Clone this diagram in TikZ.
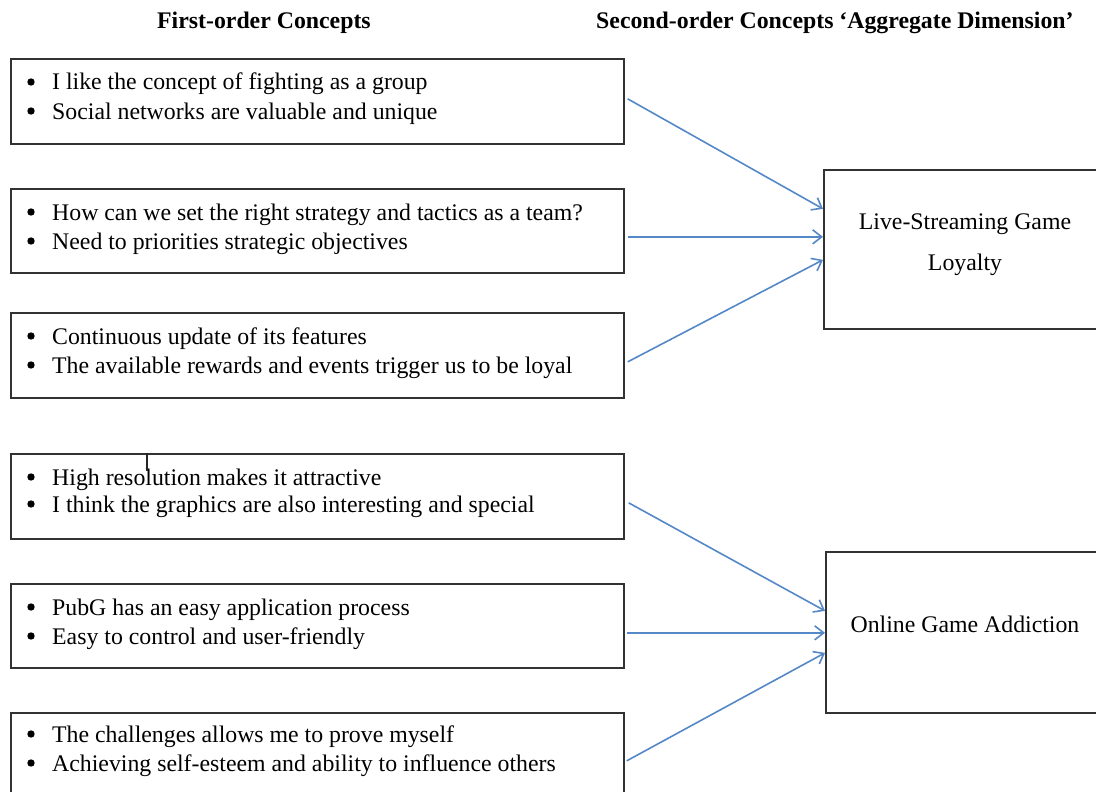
\documentclass[tikz,border=0pt]{standalone}
\usepackage{fontspec}
\setmainfont{Liberation Serif}
\usetikzlibrary{arrows.meta,calc}
\definecolor{arrowblue}{RGB}{84,136,198}
\definecolor{boxline}{RGB}{50,50,50}
\begin{document}
\begin{tikzpicture}[x=1pt,y=-1pt,
  lbox/.style={draw=boxline, line width=1.7pt, rectangle, anchor=north west, inner sep=0pt, minimum width=613pt},
  rbox/.style={draw=boxline, line width=1.7pt, rectangle, anchor=north west, inner sep=0pt, minimum width=284pt},
  itemline/.style={anchor=base west, inner sep=0pt, font=\fontsize{23.8}{29}\selectfont},
  rtext/.style={anchor=base, inner sep=0pt, font=\fontsize{23.8}{29}\selectfont},
  head/.style={anchor=base west, inner sep=0pt, font=\fontsize{23.8}{29}\selectfont\bfseries},
  conn/.style={draw=arrowblue, line width=1.6pt, -{Straight Barb[length=9pt,width=14pt,line width=1.6pt]}},
  bulletdot/.style={fill=black},
  cursorline/.style={draw=black!85, line width=1.5pt}
]
\clip (0,0) rectangle (1096,792);
\fill[white] (0,0) rectangle (1096,792);

% headings
\node[head] (h1) at (157,29) {First-order Concepts};
\node[head] (h2) at (596,29) {Second-order Concepts ‘Aggregate Dimension’};

% left boxes
\node[lbox, minimum height=85pt] (b1) at (10,58) {};
\node[lbox, minimum height=84pt] (b2) at (10,188) {};
\node[lbox, minimum height=85pt] (b3) at (10,312) {};
\node[lbox, minimum height=85pt] (b4) at (10,453) {};
\node[lbox, minimum height=84pt] (b5) at (10,583) {};
\node[lbox, minimum height=100pt] (b6) at (10,712) {};

\node[itemline] (t11) at (52,90) {I like the concept of fighting as a group};
\node[itemline] (t12) at (52,119) {Social networks are valuable and unique};
\node[itemline] (t21) at (52,220) {How can we set the right strategy and tactics as a team?};
\node[itemline] (t22) at (52,249) {Need to priorities strategic objectives};
\node[itemline] (t31) at (52,344) {Continuous update of its features};
\node[itemline] (t32) at (52,373) {The available rewards and events trigger us to be loyal};
\node[itemline] (t41) at (52,485) {High resolution makes it attractive};
\node[itemline] (t42) at (52,512) {I think the graphics are also interesting and special};
\node[itemline] (t51) at (52,615) {PubG has an easy application process};
\node[itemline] (t52) at (52,644) {Easy to control and user-friendly};
\node[itemline] (t61) at (52,742) {The challenges allows me to prove myself};
\node[itemline] (t62) at (52,771) {Achieving self-esteem and ability to influence others};

% bullets
\foreach \t in {t11,t12,t21,t22,t31,t32,t41,t42,t51,t52,t61,t62}
  \fill[bulletdot] ([xshift=-21pt,yshift=8pt]\t.base west) circle (3.7pt);

% stray cursor mark
\draw[cursorline] ([xshift=137pt]b4.north west) -- ++(0,18);

% right boxes
\node[rbox, minimum height=159pt] (r1) at (823,169) {};
\node[rbox, minimum height=161pt] (r2) at (825,551) {};
\node[rtext] (r1a) at (965,229) {Live-Streaming Game};
\node[rtext] (r1b) at (965,270) {Loyalty};
\node[rtext] (r2a) at (965,632) {Online Game Addiction};

% connectors
\draw[conn] ([xshift=3pt,yshift=2.5pt]b1.east) -- ([yshift=40.5pt]r1.west);
\draw[conn] ([xshift=3pt,yshift=-6pt]b2.east) -- ([yshift=12.5pt]r1.west);
\draw[conn] ([xshift=3pt,yshift=-6.5pt]b3.east) -- ([yshift=-10.5pt]r1.west);
\draw[conn] ([xshift=4pt,yshift=-6.5pt]b4.east) -- ([yshift=21.5pt]r2.west);
\draw[conn] ([xshift=2pt,yshift=-7pt]b5.east) -- ([yshift=-0.5pt]r2.west);
\draw[conn] ([xshift=2pt,yshift=2pt]b6.east) -- ([yshift=-20.5pt]r2.west);
\end{tikzpicture}
\end{document}
